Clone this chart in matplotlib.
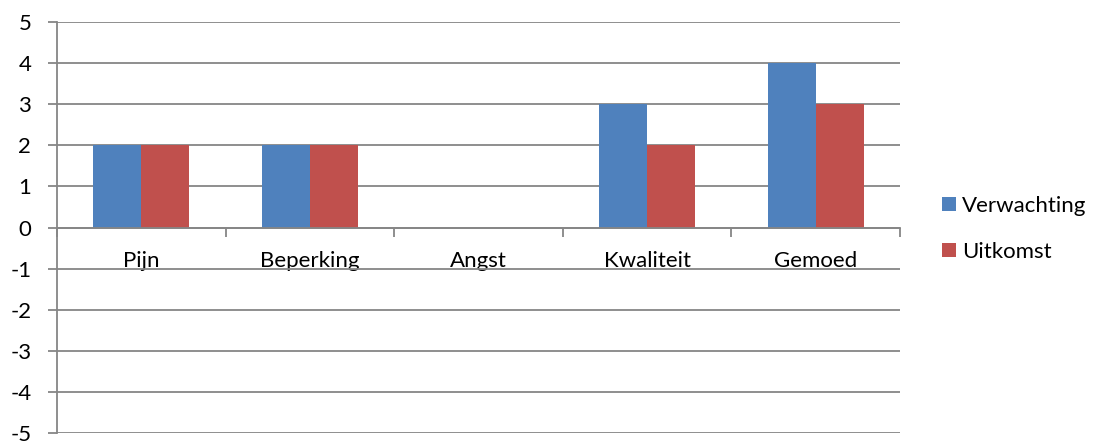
import numpy as np
import matplotlib
matplotlib.use("Agg")
import matplotlib.pyplot as plt

plt.rcParams['font.family'] = ['Lato', 'DejaVu Sans']
plt.rcParams['axes.unicode_minus'] = False

# data
categories = ['Pijn', 'Beperking', 'Angst', 'Kwaliteit', 'Gemoed']
verwachting = [2, 2, 0, 3, 4]
uitkomst = [2, 2, 0, 2, 3]
series_names = ['Verwachting', 'Uitkomst']

blue = '#4F81BD'
red = '#C0504D'
grey = '#868686'
fs = 16

fig = plt.figure(figsize=(11.02, 4.41), dpi=100)
ax = fig.add_axes([57/1102, 1 - 433/441, 843/1102, 411/441])

x = np.arange(len(categories))
w = 0.285
ax.bar(x - w/2, verwachting, w, color=blue, label=series_names[0], zorder=3)
ax.bar(x + w/2, uitkomst, w, color=red, label=series_names[1], zorder=3)

ax.set_xlim(-0.5, len(categories) - 0.5)
ax.set_ylim(-5, 5)
ax.set_yticks(range(-5, 6))
ax.yaxis.grid(True, color=grey, linewidth=1.3, zorder=0)
ax.set_axisbelow(True)

for s in ['top', 'right']:
    ax.spines[s].set_visible(False)
ax.spines['left'].set_color(grey)
ax.spines['left'].set_linewidth(1.3)
ax.spines['bottom'].set_position(('data', 0))
ax.spines['bottom'].set_color(grey)
ax.spines['bottom'].set_linewidth(1.3)
ax.spines['bottom'].set_zorder(4)

# category boundaries as major ticks, labels on minor ticks
ax.set_xticks(np.arange(-0.5, len(categories), 1.0))
ax.set_xticklabels([])
ax.set_xticks(x, minor=True)
ax.set_xticklabels(categories, minor=True)
ax.tick_params(axis='x', which='major', direction='out', length=6.5, width=1.3, color=grey)
ax.tick_params(axis='x', which='minor', length=0, pad=17, labelsize=fs)
ax.tick_params(axis='y', direction='out', length=6.5, width=1.3, color=grey, pad=12, labelsize=fs)

fig.legend(loc='center left', bbox_to_anchor=(0.837, 0.481), frameon=False,
           fontsize=fs, handlelength=0.6, handleheight=0.6, handletextpad=0.3,
           labelspacing=1.2)

fig.savefig('out.png', dpi=100)
